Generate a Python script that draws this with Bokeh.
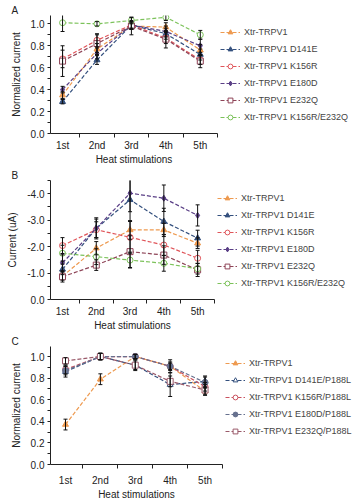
from bokeh.plotting import figure
from bokeh.layouts import column
from bokeh.models import (ColumnDataSource, Whisker, TeeHead, Legend, LegendItem,
                          FixedTicker)
from bokeh.embed import file_html
from bokeh.resources import INLINE

# ---------------- data ----------------
stims = [1, 2, 3, 4, 5]
stim_labels = ["1st", "2nd", "3rd", "4th", "5th"]

# Panel A: normalized current
a_names = ["Xtr-TRPV1", "Xtr-TRPV1 D141E", "Xtr-TRPV1 K156R", "Xtr-TRPV1 E180D",
           "Xtr-TRPV1 E232Q", "Xtr-TRPV1 K156R/E232Q"]
a_wt = [0.35, 0.77, 0.98, 0.97, 0.76]
a_d141e = [0.29, 0.67, 0.99, 0.91, 0.72]
a_k156r = [0.68, 0.85, 0.99, 0.87, 0.67]
a_e180d = [0.40, 0.73, 0.99, 0.93, 0.80]
a_e232q = [0.66, 0.82, 0.98, 0.86, 0.66]
a_k156r_e232q = [1.01, 1.00, 1.03, 1.06, 0.90]
a_wt_err = [0.03, 0.05, 0.03, 0.04, 0.05]
a_d141e_err = [0.02, 0.04, 0.03, 0.05, 0.05]
a_k156r_err = [0.08, 0.06, 0.04, 0.05, 0.04]
a_e180d_err = [0.03, 0.05, 0.03, 0.05, 0.06]
a_e232q_err = [0.14, 0.08, 0.08, 0.08, 0.06]
a_k156r_e232q_err = [0.08, 0.02, 0.03, 0.03, 0.04]

# Panel B: current (uA, magnitude of inward current)
b_names = a_names
b_wt = [0.88, 1.94, 2.63, 2.63, 2.13]
b_d141e = [1.14, 2.69, 3.77, 2.95, 2.32]
b_k156r = [2.04, 2.64, 2.35, 2.06, 1.56]
b_e180d = [1.39, 2.69, 4.02, 3.83, 3.18]
b_e232q = [0.86, 1.30, 1.81, 1.68, 1.12]
b_k156r_e232q = [1.75, 1.62, 1.49, 1.37, 1.16]
b_wt_err = [0.15, 0.25, 0.35, 0.25, 0.20]
b_d141e_err = [0.20, 0.35, 0.80, 0.50, 0.30]
b_k156r_err = [0.30, 0.30, 0.60, 0.40, 0.30]
b_e180d_err = [0.30, 0.40, 0.70, 0.50, 0.40]
b_e232q_err = [0.20, 0.20, 0.60, 0.35, 0.25]
b_k156r_e232q_err = [0.30, 0.30, 0.30, 0.30, 0.20]
b_tick_labels = ["0.0", "-1.0", "-2.0", "-3.0", "-4.0"]

# Panel C: normalized current, P188L background
c_names = ["Xtr-TRPV1", "Xtr-TRPV1 D141E/P188L", "Xtr-TRPV1 K156R/P188L",
           "Xtr-TRPV1 E180D/P188L", "Xtr-TRPV1 E232Q/P188L"]
c_wt = [0.37, 0.79, 1.00, 0.91, 0.68]
c_d141e = [0.86, 1.00, 0.92, 0.74, 0.77]
c_k156r = [0.88, 1.00, 1.00, 0.91, 0.72]
c_e180d = [0.87, 1.00, 1.00, 0.91, 0.76]
c_e232q = [0.96, 1.00, 0.92, 0.77, 0.69]
c_wt_err = [0.05, 0.05, 0.02, 0.03, 0.03]
c_d141e_err = [0.05, 0.03, 0.04, 0.11, 0.05]
c_k156r_err = [0.04, 0.03, 0.02, 0.04, 0.04]
c_e180d_err = [0.04, 0.03, 0.02, 0.06, 0.05]
c_e232q_err = [0.03, 0.03, 0.05, 0.05, 0.05]

FONT = "Liberation Sans"

# style per series: (color, marker, filled)
a_styles = [("#EE9A50", "triangle", True), ("#34507E", "triangle", True),
            ("#E0555A", "circle", False), ("#5A3F86", "diamond", True),
            ("#8E4457", "square", False), ("#7CC25A", "circle", False)]
c_styles = [("#EE9A50", "triangle", True), ("#34507E", "triangle", False),
            ("#C9515E", "circle", False), ("#66708E", "circle", True),
            ("#9A5A6A", "square", False)]


def make_panel(letter, names, series, errs, styles, height, top, frame_h, frame_w,
               xstart, ymax, ylabel, yticks, yminor, ylabels, legend_y,
               xlab_standoff):
    bottom = height - top - frame_h
    p = figure(frame_width=frame_w, frame_height=frame_h,
               x_range=(xstart, 5.5), y_range=(0, ymax),
               output_backend="svg", toolbar_location=None,
               min_border_left=50, min_border_right=354 - 50 - frame_w,
               min_border_top=top, min_border_bottom=bottom,
               background_fill_color="white", border_fill_color="white",
               outline_line_color=None)
    p.grid.visible = False

    # panel letter as a left-aligned title
    p.title.text = letter
    p.title.align = "left"
    p.title.offset = -39
    p.title.standoff = 0
    p.title.text_font = FONT
    p.title.text_font_size = "10px"
    p.title.text_font_style = "normal"
    p.title.text_color = "#222222"

    # x axis
    xa = p.xaxis[0]
    xa.ticker = FixedTicker(ticks=stims, minor_ticks=[1.5, 2.5, 3.5, 4.5, 5.5])
    xa.major_label_overrides = {s: l for s, l in zip(stims, stim_labels)}
    xa.major_tick_out = 0
    xa.major_tick_in = 0
    xa.minor_tick_out = 4
    xa.minor_tick_in = 0
    xa.axis_label = "Heat stimulations"
    # y axis
    ya = p.yaxis[0]
    ya.ticker = FixedTicker(ticks=yticks, minor_ticks=yminor)
    if ylabels is not None:
        ya.major_label_overrides = {t: l for t, l in zip(yticks, ylabels)}
    ya.major_tick_out = 3
    ya.major_tick_in = 0
    ya.minor_tick_out = 3
    ya.minor_tick_in = 0
    ya.axis_label = ylabel
    for ax in (xa, ya):
        ax.axis_line_color = "#222222"
        ax.major_tick_line_color = "#222222"
        ax.minor_tick_line_color = "#222222"
        ax.major_label_text_font = FONT
        ax.major_label_text_font_size = "10px"
        ax.major_label_text_color = "#222222"
        ax.axis_label_text_font = FONT
        ax.axis_label_text_font_size = "10px"
        ax.axis_label_text_font_style = "normal"
        ax.axis_label_text_color = "#222222"
    xa.major_label_standoff = xlab_standoff
    xa.axis_label_standoff = 0
    ya.major_label_standoff = 3
    ya.axis_label_standoff = 6

    items = []
    for name, vals, err, (color, marker, filled) in zip(names, series, errs, styles):
        src = ColumnDataSource(dict(x=stims, y=vals,
                                    lo=[v - e for v, e in zip(vals, err)],
                                    hi=[v + e for v, e in zip(vals, err)]))
        wk = Whisker(source=src, base="x", lower="lo", upper="hi",
                     line_color="#111111", line_width=1,
                     upper_head=TeeHead(size=4, line_color="#111111", line_width=1),
                     lower_head=TeeHead(size=4, line_color="#111111", line_width=1),
                     level="glyph")
        p.add_layout(wk)
        ln = p.line("x", "y", source=src, line_color=color, line_width=1.2,
                    line_dash="4 2")
        sc = p.scatter("x", "y", source=src, marker=marker, size=6,
                       line_color=color, line_width=1,
                       fill_color=color if filled else "white")
        items.append(LegendItem(label=name, renderers=[ln, sc]))

    legend = Legend(items=items, location=(3, legend_y),
                    label_text_font=FONT, label_text_font_size="9px",
                    label_text_color="#444444", glyph_width=20, glyph_height=12,
                    label_height=12, label_standoff=4, spacing=5, padding=0,
                    margin=0, border_line_alpha=0, background_fill_alpha=0)
    p.add_layout(legend, "right")
    return p


pa = make_panel("A", a_names,
                [a_wt, a_d141e, a_k156r, a_e180d, a_e232q, a_k156r_e232q],
                [a_wt_err, a_d141e_err, a_k156r_err, a_e180d_err, a_e232q_err,
                 a_k156r_e232q_err],
                a_styles, 165, 15, 118, 167, 0.65, 1.076, "Normalized current",
                [0, 0.2, 0.4, 0.6, 0.8, 1.0], [0.1, 0.3, 0.5, 0.7, 0.9],
                ["0.0", "0.2", "0.4", "0.6", "0.8", "1.0"], 10, 2)

pb = make_panel("B", b_names,
                [b_wt, b_d141e, b_k156r, b_e180d, b_e232q, b_k156r_e232q],
                [b_wt_err, b_d141e_err, b_k156r_err, b_e180d_err, b_e232q_err,
                 b_k156r_e232q_err],
                a_styles, 165, 13, 119, 164, 0.645, 4.5, "Current (uA)",
                [0, 1, 2, 3, 4], [0.5, 1.5, 2.5, 3.5, 4.5], b_tick_labels,
                10, 2)

pc = make_panel("C", c_names,
                [c_wt, c_d141e, c_k156r, c_e180d, c_e232q],
                [c_wt_err, c_d141e_err, c_k156r_err, c_e180d_err, c_e232q_err],
                c_styles, 168, 13, 118, 172, 0.57, 1.093, "Normalized current",
                [0, 0.2, 0.4, 0.6, 0.8, 1.0], [0.1, 0.3, 0.5, 0.7, 0.9],
                ["0.0", "0.2", "0.4", "0.6", "0.8", "1.0"], 27, 6)

layout = column(pa, pb, pc, spacing=0)
open("out.html", "w").write(file_html(layout, INLINE))
